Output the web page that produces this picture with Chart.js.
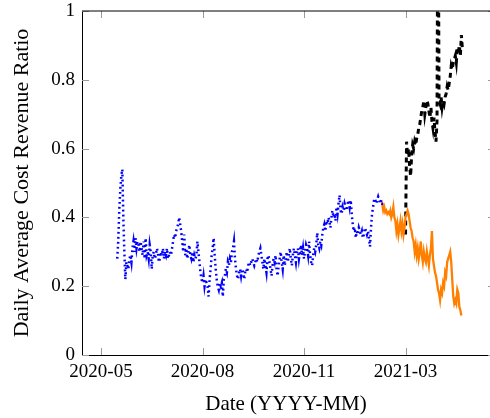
<!DOCTYPE html>
<html>
<head>
<meta charset="utf-8">
<script src="https://cdn.jsdelivr.net/npm/chart.js@4.4.1/dist/chart.umd.min.js"></script>
<style>
html,body{margin:0;padding:0;background:#fff;}
#wrap{width:490px;height:418px;position:relative;}
</style>
</head>
<body>
<div id="wrap"><canvas id="c" width="490" height="418"></canvas></div>
<script>
// Tick labels (x positions in days since the first tick)
const xTickValues = [0, 100, 200, 300];
const xTickLabels = ['2020-05', '2020-08', '2020-11', '2021-03'];
const yTickValues = [0, 0.2, 0.4, 0.6, 0.8, 1];

// Series 1 (blue, dotted) – daily values starting at day 16
const blueStartDay = 16;
const blueValues = [
  0.28, 0.33, 0.42, 0.48, 0.52, 0.54, 0.40, 0.30, 0.22, 0.27,
  0.26, 0.25, 0.28, 0.29, 0.27, 0.31, 0.33, 0.30, 0.34, 0.31,
  0.33, 0.32, 0.30, 0.33, 0.31, 0.29, 0.33, 0.28, 0.34, 0.29,
  0.30, 0.28, 0.32, 0.30, 0.25, 0.29, 0.30, 0.28, 0.29, 0.31,
  0.30, 0.27, 0.28, 0.30, 0.29, 0.31, 0.28, 0.30, 0.29, 0.31,
  0.28, 0.29, 0.30, 0.29, 0.31, 0.33, 0.35, 0.34, 0.36, 0.37,
  0.38, 0.40, 0.38, 0.36, 0.33, 0.30, 0.35, 0.29, 0.31, 0.28,
  0.30, 0.32, 0.29, 0.28, 0.30, 0.27, 0.29, 0.28, 0.29, 0.33,
  0.30, 0.27, 0.24, 0.22, 0.21, 0.23, 0.20, 0.22, 0.21, 0.20,
  0.17, 0.22, 0.25, 0.29, 0.31, 0.34, 0.29, 0.25, 0.22, 0.20,
  0.19, 0.21, 0.20, 0.21, 0.17, 0.22, 0.23, 0.25, 0.24, 0.27,
  0.26, 0.28, 0.27, 0.30, 0.31, 0.33, 0.28, 0.25, 0.23, 0.22,
  0.24, 0.25, 0.23, 0.25, 0.24, 0.22, 0.24, 0.25, 0.24, 0.26,
  0.27, 0.26, 0.27, 0.28, 0.27, 0.26, 0.27, 0.28, 0.27, 0.29,
  0.30, 0.31, 0.29, 0.27, 0.25, 0.28, 0.26, 0.24, 0.28, 0.29,
  0.27, 0.25, 0.23, 0.26, 0.28, 0.27, 0.29, 0.25, 0.23, 0.26,
  0.28, 0.30, 0.27, 0.25, 0.29, 0.26, 0.28, 0.30, 0.27, 0.29,
  0.31, 0.28, 0.26, 0.29, 0.31, 0.29, 0.27, 0.30, 0.31, 0.28,
  0.30, 0.32, 0.29, 0.31, 0.28, 0.30, 0.32, 0.31, 0.29, 0.33,
  0.29, 0.27, 0.26, 0.29, 0.31, 0.30, 0.32, 0.355, 0.32, 0.31,
  0.33, 0.32, 0.35, 0.37, 0.38, 0.36, 0.39, 0.38, 0.40, 0.39,
  0.37, 0.40, 0.42, 0.40, 0.41, 0.39, 0.43, 0.41, 0.44, 0.465,
  0.42, 0.41, 0.43, 0.42, 0.44, 0.43, 0.42, 0.44, 0.45, 0.43,
  0.45, 0.41, 0.38, 0.36, 0.37, 0.34, 0.36, 0.35, 0.37, 0.36,
  0.35, 0.36, 0.34, 0.35, 0.37, 0.36, 0.35, 0.36, 0.34, 0.315,
  0.37, 0.41, 0.43, 0.45, 0.455, 0.44, 0.45, 0.46, 0.45, 0.44, 0.45, 0.44, 0.44
];

// Series 2 (orange, solid) – daily values starting at day 276
const orangeStartDay = 276;
const orangeValues = [
  0.45, 0.44, 0.42, 0.43, 0.415, 0.42, 0.41, 0.415, 0.41, 0.42,
  0.40, 0.41, 0.43, 0.40, 0.39, 0.36, 0.38, 0.35, 0.37, 0.39,
  0.36, 0.38, 0.35, 0.37, 0.40, 0.41, 0.42, 0.41, 0.39, 0.37,
  0.36, 0.34, 0.33, 0.30, 0.32, 0.29, 0.31, 0.28, 0.30, 0.33,
  0.29, 0.27, 0.30, 0.28, 0.27, 0.30, 0.28, 0.26, 0.29, 0.31,
  0.36, 0.28, 0.26, 0.24, 0.23, 0.21, 0.19, 0.18, 0.16, 0.19,
  0.18, 0.21, 0.20, 0.24, 0.23, 0.27, 0.28, 0.29, 0.30, 0.27,
  0.22, 0.17, 0.15, 0.16, 0.15, 0.19, 0.18, 0.14, 0.13, 0.115
];

// Series 3 (black, dashed) – daily values starting at day 300
const blackStartDay = 300;
const blackValues = [
  0.35, 0.62, 0.58, 0.60, 0.55, 0.52, 0.58, 0.61, 0.60, 0.62,
  0.61, 0.63, 0.64, 0.66, 0.67, 0.69, 0.71, 0.72, 0.74, 0.70,
  0.72, 0.74, 0.73, 0.71, 0.69, 0.72, 0.68, 0.66, 0.69, 0.65,
  0.62, 0.68, 1.50, 0.74, 0.73, 0.75, 0.72, 0.74, 0.73, 0.75,
  0.76, 0.78, 0.77, 0.79, 0.81, 0.84, 0.83, 0.85, 0.86, 0.87,
  0.85, 0.89, 0.88, 0.90, 0.87, 0.93, 0.89
];

function toPoints(start, vals) {
  return vals.map((v, i) => ({ x: start + i, y: v }));
}

const FONT = "'Liberation Serif', 'Times New Roman', serif";

const frameTicks = {
  id: 'frameTicks',
  afterDatasetsDraw(chart) {
    const { ctx, chartArea: a, scales } = chart;
    const xs = scales.x, ys = scales.y;
    ctx.save();
    ctx.lineWidth = 1;
    ctx.strokeStyle = '#9a9a9a';
    const L = 7;
    const rightEdge = a.right + 5;
    ctx.beginPath();
    xTickValues.forEach(v => {
      const px = Math.round(xs.getPixelForValue(v)) + 0.5;
      ctx.moveTo(px, a.bottom); ctx.lineTo(px, a.bottom - L);
      ctx.moveTo(px, a.top); ctx.lineTo(px, a.top + L);
    });
    yTickValues.forEach(v => {
      const py = Math.round(ys.getPixelForValue(v)) + 0.5;
      ctx.moveTo(a.left, py); ctx.lineTo(a.left + L, py);
      ctx.moveTo(rightEdge, py); ctx.lineTo(rightEdge - L, py);
    });
    ctx.stroke();
    ctx.strokeStyle = '#000';
    ctx.beginPath();
    ctx.moveTo(a.left, a.top); ctx.lineTo(a.right + 5, a.top);
    ctx.stroke();
    ctx.restore();
  }
};

function noPad(s) {
  s.paddingTop = 0; s.paddingBottom = 0; s.paddingLeft = 0; s.paddingRight = 0;
}

new Chart(document.getElementById('c'), {
  type: 'line',
  data: {
    datasets: [
      {
        data: toPoints(blueStartDay, blueValues),
        borderColor: '#0000ff',
        borderWidth: 2.5,
        borderDash: [1.8, 3.2],
        pointRadius: 0,
        tension: 0,
        fill: false,
        clip: 0
      },
      {
        data: toPoints(orangeStartDay, orangeValues),
        borderColor: '#ff8000',
        borderWidth: 2.3,
        pointRadius: 0,
        tension: 0,
        fill: false,
        clip: 0
      },
      {
        data: toPoints(blackStartDay, blackValues),
        borderColor: '#000000',
        borderWidth: 3,
        borderDash: [5, 4],
        pointRadius: 0,
        tension: 0,
        fill: false,
        clip: 0
      }
    ]
  },
  options: {
    responsive: false,
    animation: false,
    devicePixelRatio: 1,
    layout: { padding: { top: 11, right: 0, bottom: 0, left: 0 } },
    plugins: { legend: { display: false }, tooltip: { enabled: false } },
    scales: {
      x: {
        type: 'linear',
        min: -18.7,
        max: 383.2,
        afterBuildTicks: s => { s.ticks = xTickValues.map(v => ({ value: v })); },
        afterFit: s => { s.height = 63; noPad(s); },
        grid: { display: true, drawOnChartArea: false, drawTicks: false },
        border: { display: true, color: '#000', width: 1 },
        ticks: {
          padding: 6,
          color: '#000',
          maxRotation: 0,
          autoSkip: false,
          font: { family: FONT, size: 19 },
          callback: v => { const i = xTickValues.indexOf(v); return i >= 0 ? xTickLabels[i] : ''; }
        },
        title: {
          display: true,
          text: 'Date (YYYY-MM)',
          color: '#000',
          font: { family: FONT, size: 21 },
          padding: { top: 0, bottom: 1 }
        }
      },
      y: {
        min: 0,
        max: 1,
        afterBuildTicks: s => { s.ticks = yTickValues.map(v => ({ value: v })); },
        afterFit: s => { s.width = 82; noPad(s); },
        grid: { display: true, drawOnChartArea: false, drawTicks: false },
        border: { display: true, color: '#000', width: 1 },
        ticks: {
          padding: 7,
          color: '#000',
          font: { family: FONT, size: 19 },
          callback: v => String(Math.round(v * 10) / 10)
        },
        title: {
          display: true,
          text: 'Daily Average Cost Revenue Ratio',
          color: '#000',
          font: { family: FONT, size: 22 },
          padding: { top: 9, bottom: 0 }
        }
      }
    }
  },
  plugins: [frameTicks]
});
</script>
</body>
</html>
